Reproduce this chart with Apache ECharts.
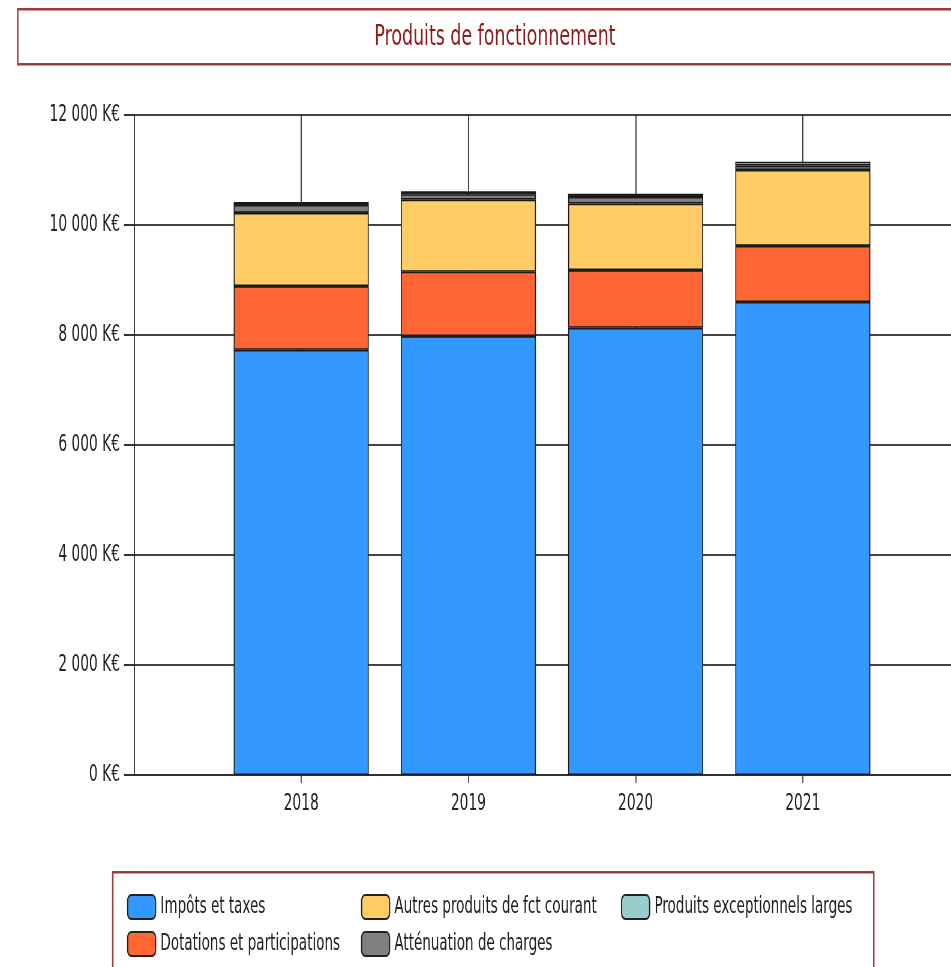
<!DOCTYPE html>
<html>
<head>
<meta charset="utf-8">
<script src="https://cdn.jsdelivr.net/npm/echarts@6/dist/echarts.min.js"></script>
<style>
  html, body { margin: 0; padding: 0; background: #ffffff; width: 951px; height: 967px; overflow: hidden; }
  /* the chart is laid out wide, then narrowed horizontally */
  #chart { width: 1620px; height: 967px; transform: scaleX(0.6); transform-origin: 0 0; }
</style>
</head>
<body>
<div id="chart"></div>
<script>
// Produits de fonctionnement, en K€, par exercice
const years = ['2018', '2019', '2020', '2021'];
const impots = [7730, 7980, 8130, 8600];
const dotations = [1160, 1170, 1050, 1020];
const autres = [1330, 1310, 1210, 1380];
const attenuation = [145, 100, 120, 80];
const exceptionnels = [55, 55, 60, 70];

const seriesNames = [
  'Impôts et taxes',
  'Dotations et participations',
  'Autres produits de fct courant',
  'Atténuation de charges',
  'Produits exceptionnels larges'
];
const seriesColors = ['#3399ff', '#ff6633', '#ffcc66', '#808080', '#99cccc'];
const yTicks = [0, 2000, 4000, 6000, 8000, 10000, 12000];

// horizontal squeeze applied to the canvas (see CSS); x positions are given on screen and divided by it
const SX = 0.6;
const X = px => px / SX;

// one empty slot on each side of the years
const slots = [''].concat(years, ['']);
const pad = arr => ['-'].concat(arr, ['-']);
const realSlot = idx => idx > 0 && idx < slots.length - 1;

const FONT = '"DejaVu Sans", Verdana, sans-serif';
const DARKRED = '#a23a3a';

function kEuro(v) {
  return String(v).replace(/\B(?=(\d{3})+(?!\d))/g, ' ') + ' K€';
}

const chart = echarts.init(document.getElementById('chart'), null, { renderer: 'canvas' });
const values = [impots, dotations, autres, attenuation, exceptionnels];

const legendBase = {
  orient: 'vertical', top: 889, itemGap: 11,
  itemWidth: X(28), itemHeight: 24,
  icon: 'roundRect',
  itemStyle: { borderColor: '#222', borderWidth: 2 },
  textStyle: { fontFamily: FONT, fontSize: 22.5, color: '#222', padding: [0, 0, 0, 3] }
};

chart.setOption({
  animation: false,
  backgroundColor: '#ffffff',
  title: {
    text: 'Produits de fonctionnement',
    left: X(492),
    textAlign: 'center',
    top: 18,
    textStyle: { fontFamily: FONT, fontSize: 29, fontWeight: 'normal', color: '#8b1c1c' }
  },
  legend: [
    Object.assign({ data: [seriesNames[0], seriesNames[1]], left: X(124) }, legendBase),
    Object.assign({ data: [seriesNames[2], seriesNames[3]], left: X(358) }, legendBase),
    Object.assign({ data: [seriesNames[4]], left: X(618) }, legendBase)
  ],
  graphic: [
    {
      type: 'rect', left: X(17), top: 8, z: -1,
      shape: { width: X(960), height: 55 },
      style: { fill: '#ffffff', stroke: DARKRED, lineWidth: 2.5 }
    },
    {
      type: 'rect', left: X(112), top: 871, z: -1,
      shape: { width: X(761), height: 110 },
      style: { fill: '#ffffff', stroke: DARKRED, lineWidth: 2.5 }
    }
  ],
  grid: { left: X(134), top: 115, width: X(836), height: 660, containLabel: false },
  xAxis: {
    type: 'category',
    data: slots,
    boundaryGap: false,
    axisLine: { show: true, lineStyle: { color: '#333', width: 2 } },
    axisTick: { show: true, interval: realSlot, length: 8, lineStyle: { color: '#333', width: 1.6 } },
    axisLabel: {
      interval: realSlot, margin: 18,
      fontFamily: FONT, fontSize: 23, color: '#222'
    },
    splitLine: { show: true, interval: realSlot, lineStyle: { color: '#111', width: 1.6 } }
  },
  yAxis: {
    type: 'value',
    min: yTicks[0],
    max: yTicks[yTicks.length - 1],
    interval: yTicks[1] - yTicks[0],
    axisLine: { show: true, lineStyle: { color: '#222', width: 1.7 } },
    axisTick: { show: true, length: X(10), lineStyle: { color: '#333', width: 2 } },
    axisLabel: {
      margin: X(14), formatter: kEuro,
      fontFamily: FONT, fontSize: 23, color: '#222'
    },
    splitLine: { show: true, lineStyle: { color: '#444', width: 2 } }
  },
  series: seriesNames.map((name, i) => ({
    name: name,
    type: 'bar',
    stack: 'produits',
    barWidth: X(135),
    data: pad(values[i]),
    itemStyle: { color: seriesColors[i], borderColor: '#1a1a1a', borderWidth: 1.6 }
  }))
});
</script>
</body>
</html>
